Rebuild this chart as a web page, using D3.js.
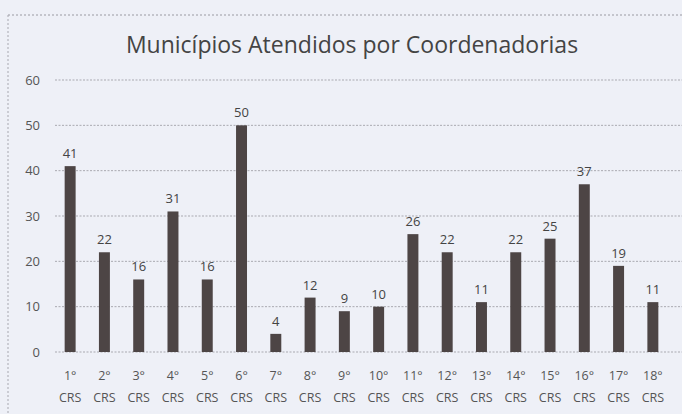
<!DOCTYPE html>
<html>
<head>
<meta charset="utf-8">
<script src="https://cdn.jsdelivr.net/npm/d3@7"></script>
<style>
  body { margin: 0; background: #eef0f7; }
  svg { display: block; font-family: "Open Sans", sans-serif; }
</style>
</head>
<body>
<script>
const width = 682, height = 414;

// Data
const categories = ["1°", "2°", "3°", "4°", "5°", "6°", "7°", "8°", "9°", "10°",
  "11°", "12°", "13°", "14°", "15°", "16°", "17°", "18°"];
const values = [41, 22, 16, 31, 16, 50, 4, 12, 9, 10, 26, 22, 11, 22, 25, 37, 19, 11];
const yTicks = [0, 10, 20, 30, 40, 50, 60];

const margin = { top: 80, right: 12, bottom: 62, left: 53 };
const barColor = "#4d4545";
const textColor = "#555";

const svg = d3.select("body").append("svg")
  .attr("width", width)
  .attr("height", height);

svg.append("rect")
  .attr("width", width)
  .attr("height", height)
  .attr("fill", "#eef0f7");

// dashed chart frame
svg.append("line")
  .attr("x1", 8).attr("x2", width).attr("y1", 15).attr("y2", 15)
  .attr("stroke", "#9a9aa2").attr("stroke-dasharray", "2,2");
svg.append("line")
  .attr("x1", 8).attr("x2", 8).attr("y1", 15).attr("y2", height)
  .attr("stroke", "#a8a8b0").attr("stroke-dasharray", "2,2");

const x = d3.scaleBand()
  .domain(categories)
  .range([margin.left, width - margin.right])
  .paddingInner(0.68)
  .paddingOuter(0.34);

const y = d3.scaleLinear()
  .domain([0, 60])
  .range([352, margin.top]);

// gridlines
svg.append("g")
  .selectAll("line")
  .data(yTicks)
  .join("line")
  .attr("x1", 55)
  .attr("x2", width)
  .attr("y1", d => y(d))
  .attr("y2", d => y(d))
  .attr("stroke", "#a9a9b0")
  .attr("stroke-width", 1)
  .attr("stroke-dasharray", "2,1.5");

// y labels
svg.append("g")
  .selectAll("text")
  .data(yTicks)
  .join("text")
  .attr("x", 40)
  .attr("y", d => y(d))
  .attr("dy", "0.35em")
  .attr("text-anchor", "end")
  .attr("font-size", "13px")
  .attr("fill", textColor)
  .text(d => d);

// bars
svg.append("g")
  .selectAll("rect")
  .data(values)
  .join("rect")
  .attr("x", (d, i) => x(categories[i]))
  .attr("y", d => y(d))
  .attr("width", x.bandwidth())
  .attr("height", d => y(0) - y(d))
  .attr("fill", barColor);

// value labels
svg.append("g")
  .selectAll("text")
  .data(values)
  .join("text")
  .attr("x", (d, i) => x(categories[i]) + x.bandwidth() / 2)
  .attr("y", d => y(d) - 8)
  .attr("text-anchor", "middle")
  .attr("font-size", "13px")
  .attr("fill", "#444")
  .text(d => d);

// x labels (two lines)
const xl = svg.append("g")
  .selectAll("text")
  .data(categories)
  .join("text")
  .attr("text-anchor", "middle")
  .attr("font-size", "12.5px")
  .attr("fill", textColor);
xl.append("tspan")
  .attr("x", d => x(d) + x.bandwidth() / 2)
  .attr("y", 380)
  .text(d => d);
xl.append("tspan")
  .attr("x", d => x(d) + x.bandwidth() / 2)
  .attr("y", 402)
  .text("CRS");

// title
svg.append("text")
  .attr("x", 352)
  .attr("y", 53)
  .attr("text-anchor", "middle")
  .attr("font-size", "23px")
  .attr("fill", "#444")
  .text("Municípios Atendidos por Coordenadorias");
</script>
</body>
</html>
